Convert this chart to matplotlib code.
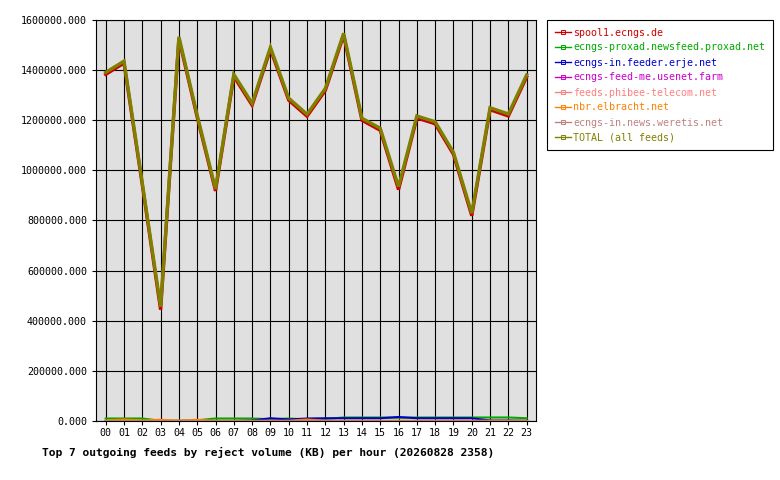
import numpy as np
import matplotlib
matplotlib.use("Agg")
import matplotlib.pyplot as plt
from matplotlib.ticker import FormatStrFormatter

plt.rcParams['font.family'] = ['DejaVu Sans Mono']

# hours of the day
hours = ["00", "01", "02", "03", "04", "05", "06", "07", "08", "09", "10", "11",
         "12", "13", "14", "15", "16", "17", "18", "19", "20", "21", "22", "23"]

# reject volume (KB) per hour
spool1 = [1383000, 1428000, 942000, 444000, 1525000, 1212000, 918000, 1375000,
          1260000, 1483000, 1280000, 1216000, 1319000, 1539000, 1200000, 1160000,
          923000, 1209000, 1186000, 1064000, 819000, 1242000, 1217000, 1373000]
proxad = [10000, 10000, 10000, 1000, 1000, 3000, 10000, 10000, 10000, 7000, 10000, 6000,
          8000, 14000, 14000, 14000, 13000, 14000, 14000, 14000, 14000, 14000, 14000, 11000]
erje = [0, 0, 0, 0, 0, 0, 0, 0, 2000, 11000, 6000, 10000,
        11000, 11000, 11000, 11000, 16000, 11000, 11000, 11000, 11000, 2000, 2000, 1000]
usenet_farm = [0, 0, 0, 0, 0, 0, 0, 0, 0, 0, 0, 0,
               0, 0, 0, 0, 0, 0, 0, 0, 0, 0, 0, 0]
phibee = [0, 0, 0, 0, 0, 0, 0, 0, 0, 0, 0, 0,
          0, 0, 0, 0, 0, 0, 0, 0, 0, 0, 0, 0]
elbracht = [2000, 6000, 2000, 5000, 1000, 5000, 1000, 1000, 1000, 1000, 1000, 6000,
            1000, 1000, 1000, 1000, 1000, 1000, 1000, 1000, 1000, 1000, 1000, 1000]
weretis = [1000, 1000, 1000, 1000, 1000, 1000, 1000, 1000, 1000, 1000, 1000, 1000,
           1000, 1000, 1000, 1000, 1000, 1000, 1000, 1000, 1000, 1000, 1000, 1000]
total = [1391000, 1436000, 950000, 456000, 1533000, 1220000, 926000, 1383000,
         1268000, 1491000, 1288000, 1224000, 1327000, 1547000, 1208000, 1168000,
         935000, 1217000, 1194000, 1072000, 829000, 1250000, 1225000, 1381000]

series = [
    ("spool1.ecngs.de", spool1, "#cc0000", 2.4),
    ("ecngs-proxad.newsfeed.proxad.net", proxad, "#00aa00", 1.5),
    ("ecngs-in.feeder.erje.net", erje, "#0000cc", 1.5),
    ("ecngs-feed-me.usenet.farm", usenet_farm, "#cc00cc", 1.5),
    ("feeds.phibee-telecom.net", phibee, "#ff8080", 1.5),
    ("nbr.elbracht.net", elbracht, "#ff8000", 1.5),
    ("ecngs-in.news.weretis.net", weretis, "#c08080", 1.8),
    ("TOTAL (all feeds)", total, "#808000", 2.4),
]

fig = plt.figure(figsize=(7.8, 4.8), dpi=100)
ax = fig.add_axes([96 / 780, 1 - 421 / 480, 440 / 780, 401 / 480])
ax.set_facecolor("#e0e0e0")

x = np.arange(len(hours))
for name, vals, col, lw in series:
    ax.plot(x, vals, color=col, linewidth=lw, solid_joinstyle='miter')

ax.set_xlim(-0.53, 23.51)
ax.set_ylim(0, 1600000)
ax.set_xticks(x)
ax.set_xticklabels(hours)
ax.set_yticks(np.arange(0, 1600001, 200000))
ax.yaxis.set_major_formatter(FormatStrFormatter('%.3f'))
ax.tick_params(axis='both', length=3, width=0.8, color='black', labelsize=7.2)
ax.tick_params(axis='x', pad=2)
ax.tick_params(axis='y', pad=3.5)
ax.set_axisbelow(True)
ax.grid(True, color='black', linewidth=0.8)
for s in ax.spines.values():
    s.set_color('black')
    s.set_linewidth(0.8)

fig.text(41.7 / 780, 1 - 452 / 480,
         "Top 7 outgoing feeds by reject volume (KB) per hour (20260828 2358)",
         ha='left', va='center', fontsize=8.1, fontweight='bold')

# legend box on the right
handles = []
for name, vals, col, lw in series:
    h, = ax.plot([], [], color=col, linewidth=1, marker='s', markersize=2.5,
                 markerfacecolor='none', markeredgewidth=0.7)
    handles.append(h)
leg = fig.legend(handles, [s[0] for s in series], loc='upper left',
                 bbox_to_anchor=(547 / 780, 1 - 20 / 480), fontsize=7.2,
                 frameon=True, fancybox=False, framealpha=1, edgecolor='black',
                 handlelength=1.6, handletextpad=0.25, labelspacing=0.5,
                 borderpad=0.75, borderaxespad=0)
leg.get_frame().set_linewidth(0.8)
for t, (name, vals, col, lw) in zip(leg.get_texts(), series):
    t.set_color(col)

fig.savefig("out.png", dpi=100, facecolor='white')
